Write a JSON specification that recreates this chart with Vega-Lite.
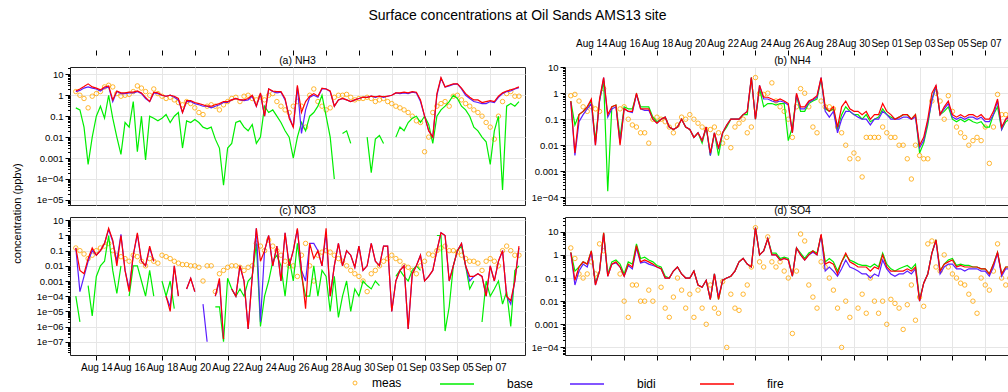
{
  "$schema": "https://vega.github.io/schema/vega-lite/v6.json",
  "padding": {"left": 10, "top": 8, "right": 5, "bottom": 5},
  "title": {"text": "Surface concentrations at Oil Sands AMS13 site", "fontSize": 14, "fontWeight": "normal", "font": "Liberation Sans", "color": "#000", "anchor": "middle", "dx": 2, "offset": 15},
  "config": {
    "font": "Liberation Sans",
    "view": {"stroke": "#222", "strokeWidth": 1},
    "axis": {"domain": false, "labelFont": "Liberation Sans", "labelColor": "#000", "tickColor": "#000", "tickWidth": 1, "gridColor": "#e6e6e6", "gridWidth": 1, "titleFont": "Liberation Sans", "titleFontWeight": "normal", "titleColor": "#000"}
  },
  "datasets": {
    "nh3": [
      {"t":"081218","meas":1.5,"base":0.25,"bidi":1.5,"fire":1.6},
      {"t":"081300","meas":1.0,"base":0.2,"bidi":1.7,"fire":2.0},
      {"t":"081306","meas":0.7,"base":0.03,"bidi":2.2,"fire":2.6},
      {"t":"081312","meas":0.25,"base":0.0005,"bidi":2.5,"fire":3.5},
      {"t":"081318","meas":0.9,"base":0.01,"bidi":2.2,"fire":2.5},
      {"t":"081400","meas":1.2,"base":0.1,"bidi":2.0,"fire":2.2},
      {"t":"081406","meas":1.5,"base":0.3,"bidi":1.6,"fire":1.8},
      {"t":"081412","meas":2.5,"base":0.08,"bidi":2.2,"fire":2.5},
      {"t":"081418","meas":3.0,"base":1.0,"bidi":2.5,"fire":2.8},
      {"t":"081500","meas":2.5,"base":0.08,"bidi":0.5,"fire":0.6},
      {"t":"081506","meas":1.2,"base":0.01,"bidi":1.5,"fire":1.6},
      {"t":"081512","meas":0.9,"base":0.0015,"bidi":1.2,"fire":1.3},
      {"t":"081518","meas":1.0,"base":0.05,"bidi":1.2,"fire":1.3},
      {"t":"081600","meas":1.1,"base":0.03,"bidi":1.3,"fire":1.4},
      {"t":"081606","meas":1.5,"base":0.5,"bidi":1.3,"fire":1.4},
      {"t":"081612","meas":2.8,"base":0.002,"bidi":1.5,"fire":1.6},
      {"t":"081618","meas":2.2,"base":0.1,"bidi":1.2,"fire":1.3},
      {"t":"081700","meas":1.5,"base":0.0008,"bidi":0.7,"fire":0.8},
      {"t":"081706","meas":1.0,"base":0.1,"bidi":0.5,"fire":0.5},
      {"t":"081712","meas":2.0,"base":0.08,"bidi":1.3,"fire":1.4},
      {"t":"081718","meas":1.2,"base":0.06,"bidi":1.2,"fire":1.3},
      {"t":"081800","meas":0.9,"base":0.08,"bidi":1.0,"fire":1.0},
      {"t":"081806","meas":0.7,"base":0.12,"bidi":0.9,"fire":0.9},
      {"t":"081812","meas":0.8,"base":0.05,"bidi":1.0,"fire":1.0},
      {"t":"081818","meas":0.6,"base":0.1,"bidi":0.8,"fire":0.9},
      {"t":"081900","meas":0.45,"base":0.15,"bidi":0.6,"fire":0.7},
      {"t":"081906","meas":0.35,"base":0.003,"bidi":0.15,"fire":0.15},
      {"t":"081912","meas":0.5,"base":0.06,"bidi":0.5,"fire":0.55},
      {"t":"081918","meas":0.4,"base":0.05,"bidi":0.5,"fire":0.55},
      {"t":"082000","meas":0.25,"base":0.07,"bidi":0.4,"fire":0.45},
      {"t":"082006","meas":0.15,"base":0.05,"bidi":0.35,"fire":0.4},
      {"t":"082012","meas":0.12,"base":0.03,"bidi":0.3,"fire":0.35},
      {"t":"082018","meas":0.3,"base":0.025,"bidi":0.3,"fire":0.3},
      {"t":"082100","meas":0.35,"base":0.03,"bidi":0.25,"fire":0.3},
      {"t":"082106","meas":0.3,"base":0.008,"bidi":0.3,"fire":0.35},
      {"t":"082112","meas":0.2,"base":0.003,"bidi":0.35,"fire":0.4},
      {"t":"082118","meas":0.35,"base":0.00005,"bidi":0.45,"fire":0.5},
      {"t":"082200","meas":0.5,"base":0.003,"bidi":0.45,"fire":0.5},
      {"t":"082206","meas":0.7,"base":0.005,"bidi":0.6,"fire":0.6},
      {"t":"082212","meas":0.8,"base":0.05,"bidi":0.7,"fire":0.7},
      {"t":"082218","meas":0.5,"base":0.06,"bidi":0.6,"fire":0.6},
      {"t":"082300","meas":0.9,"base":0.03,"bidi":0.55,"fire":0.6},
      {"t":"082306","meas":1.0,"base":0.02,"bidi":0.6,"fire":0.7},
      {"t":"082312","meas":0.7,"base":0.04,"bidi":0.9,"fire":1.0},
      {"t":"082318","meas":0.6,"base":0.005,"bidi":0.3,"fire":0.3},
      {"t":"082400","meas":0.8,"base":0.01,"bidi":1.2,"fire":1.3},
      {"t":"082406","meas":0.6,"base":0.3,"bidi":0.1,"fire":0.1},
      {"t":"082412","meas":1.0,"base":0.15,"bidi":2.0,"fire":2.0},
      {"t":"082418","meas":1.2,"base":0.2,"bidi":1.5,"fire":1.6},
      {"t":"082500","meas":0.5,"base":0.1,"bidi":1.3,"fire":1.5},
      {"t":"082506","meas":0.3,"base":0.05,"bidi":1.4,"fire":1.5},
      {"t":"082512","meas":0.2,"base":0.02,"bidi":0.6,"fire":0.7},
      {"t":"082518","meas":0.15,"base":0.01,"bidi":0.1,"fire":0.08},
      {"t":"082600","meas":0.3,"base":0.001,"bidi":0.03,"fire":0.03},
      {"t":"082606","meas":0.5,"base":0.01,"bidi":2.5,"fire":3.0},
      {"t":"082612","meas":0.3,"base":0.05,"bidi":0.015,"fire":0.15},
      {"t":"082618","meas":0.03,"base":0.02,"bidi":0.2,"fire":0.5},
      {"t":"082700","meas":1.0,"base":0.1,"bidi":0.8,"fire":0.9},
      {"t":"082706","meas":2.0,"base":0.15,"bidi":1.0,"fire":1.2},
      {"t":"082712","meas":0.5,"base":0.3,"bidi":0.8,"fire":0.9},
      {"t":"082718","meas":0.3,"base":1.0,"bidi":2.0,"fire":2.2},
      {"t":"082800","meas":0.2,"base":0.1,"bidi":2.0,"fire":2.0},
      {"t":"082806","meas":0.25,"base":0.01,"bidi":1.5,"fire":1.6},
      {"t":"082812","meas":0.8,"base":0.0001,"bidi":0.3,"fire":0.3},
      {"t":"082818","meas":1.0,"base":null,"bidi":0.6,"fire":0.6},
      {"t":"082900","meas":1.0,"base":0.015,"bidi":0.7,"fire":0.7},
      {"t":"082906","meas":1.1,"base":0.02,"bidi":0.6,"fire":0.6},
      {"t":"082912","meas":0.8,"base":0.005,"bidi":0.5,"fire":0.5},
      {"t":"082918","meas":0.6,"base":null,"bidi":0.6,"fire":0.6},
      {"t":"083000","meas":0.7,"base":null,"bidi":0.7,"fire":0.7},
      {"t":"083006","meas":0.7,"base":null,"bidi":0.8,"fire":0.8},
      {"t":"083012","meas":0.8,"base":0.01,"bidi":0.8,"fire":0.8},
      {"t":"083018","meas":0.7,"base":0.0002,"bidi":0.9,"fire":0.9},
      {"t":"083100","meas":0.5,"base":0.008,"bidi":0.8,"fire":0.85},
      {"t":"083106","meas":0.6,"base":0.012,"bidi":0.9,"fire":0.9},
      {"t":"083112","meas":0.7,"base":0.005,"bidi":0.8,"fire":0.85},
      {"t":"083118","meas":0.5,"base":null,"bidi":0.9,"fire":0.9},
      {"t":"090100","meas":0.4,"base":null,"bidi":1.0,"fire":1.0},
      {"t":"090106","meas":0.3,"base":0.01,"bidi":1.3,"fire":1.3},
      {"t":"090112","meas":0.25,"base":0.03,"bidi":1.2,"fire":1.3},
      {"t":"090118","meas":0.2,"base":0.02,"bidi":1.3,"fire":1.4},
      {"t":"090200","meas":0.15,"base":0.05,"bidi":1.2,"fire":1.3},
      {"t":"090206","meas":0.1,"base":0.08,"bidi":1.4,"fire":1.5},
      {"t":"090212","meas":0.06,"base":0.1,"bidi":1.3,"fire":1.4},
      {"t":"090218","meas":0.05,"base":0.05,"bidi":0.5,"fire":0.6},
      {"t":"090300","meas":0.002,"base":0.1,"bidi":0.1,"fire":0.1},
      {"t":"090306","meas":0.01,"base":0.04,"bidi":0.02,"fire":0.02},
      {"t":"090312","meas":0.15,"base":0.005,"bidi":0.01,"fire":0.01},
      {"t":"090318","meas":0.3,"base":0.1,"bidi":1.0,"fire":1.2},
      {"t":"090400","meas":0.4,"base":0.2,"bidi":6.5,"fire":7.0},
      {"t":"090406","meas":0.5,"base":0.3,"bidi":2.5,"fire":2.5},
      {"t":"090412","meas":0.3,"base":0.5,"bidi":2.8,"fire":3.0},
      {"t":"090418","meas":0.9,"base":1.0,"bidi":3.3,"fire":3.5},
      {"t":"090500","meas":1.0,"base":0.7,"bidi":3.5,"fire":3.5},
      {"t":"090506","meas":0.6,"base":0.3,"bidi":2.0,"fire":2.2},
      {"t":"090512","meas":0.4,"base":0.2,"bidi":1.0,"fire":1.2},
      {"t":"090518","meas":0.3,"base":0.1,"bidi":0.7,"fire":0.8},
      {"t":"090600","meas":0.2,"base":0.03,"bidi":0.5,"fire":0.6},
      {"t":"090606","meas":0.15,"base":0.02,"bidi":0.45,"fire":0.6},
      {"t":"090612","meas":0.1,"base":0.01,"bidi":0.4,"fire":0.45},
      {"t":"090618","meas":0.05,"base":0.006,"bidi":0.4,"fire":0.5},
      {"t":"090700","meas":0.03,"base":0.0005,"bidi":0.5,"fire":0.55},
      {"t":"090706","meas":0.008,"base":0.02,"bidi":0.45,"fire":0.5},
      {"t":"090712","meas":0.1,"base":0.1,"bidi":0.8,"fire":0.9},
      {"t":"090718","meas":0.5,"base":0.00003,"bidi":1.2,"fire":1.3},
      {"t":"090800","meas":1.2,"base":0.3,"bidi":1.5,"fire":1.6},
      {"t":"090806","meas":1.5,"base":0.4,"bidi":1.6,"fire":1.8},
      {"t":"090812","meas":0.9,"base":0.3,"bidi":2.0,"fire":2.1},
      {"t":"090818","meas":0.9,"base":0.5,"bidi":2.3,"fire":2.5}
    ],
    "nh4": [
      {"t":"081218","meas":0.8,"base":0.5,"bidi":0.45,"fire":0.5},
      {"t":"081300","meas":0.9,"base":0.06,"bidi":0.004,"fire":0.005},
      {"t":"081306","meas":0.5,"base":0.15,"bidi":0.08,"fire":0.15},
      {"t":"081312","meas":0.3,"base":0.2,"bidi":0.15,"fire":0.2},
      {"t":"081318","meas":0.2,"base":0.3,"bidi":0.25,"fire":0.3},
      {"t":"081400","meas":0.3,"base":0.5,"bidi":0.4,"fire":0.6},
      {"t":"081406","meas":0.25,"base":0.015,"bidi":0.01,"fire":0.01},
      {"t":"081412","meas":0.2,"base":0.5,"bidi":0.5,"fire":0.6},
      {"t":"081418","meas":1.5,"base":3.0,"bidi":4.0,"fire":4.0},
      {"t":"081500","meas":null,"base":0.00017,"bidi":0.12,"fire":0.15},
      {"t":"081506","meas":null,"base":0.3,"bidi":0.25,"fire":0.3},
      {"t":"081512","meas":null,"base":0.35,"bidi":0.3,"fire":0.35},
      {"t":"081518","meas":0.25,"base":0.02,"bidi":0.012,"fire":0.01},
      {"t":"081600","meas":0.3,"base":0.3,"bidi":0.25,"fire":0.25},
      {"t":"081606","meas":0.1,"base":0.25,"bidi":0.2,"fire":0.2},
      {"t":"081612","meas":0.06,"base":0.25,"bidi":0.18,"fire":0.2},
      {"t":"081618","meas":0.05,"base":0.9,"bidi":0.9,"fire":1.0},
      {"t":"081700","meas":0.03,"base":0.3,"bidi":0.25,"fire":0.25},
      {"t":"081706","meas":0.03,"base":0.3,"bidi":0.22,"fire":0.25},
      {"t":"081712","meas":0.012,"base":0.3,"bidi":0.22,"fire":0.25},
      {"t":"081718","meas":0.1,"base":0.12,"bidi":0.1,"fire":0.1},
      {"t":"081800","meas":0.12,"base":0.08,"bidi":0.07,"fire":0.07},
      {"t":"081806","meas":0.1,"base":0.1,"bidi":0.1,"fire":0.1},
      {"t":"081812","meas":0.08,"base":0.12,"bidi":0.12,"fire":0.12},
      {"t":"081818","meas":0.05,"base":0.05,"bidi":0.05,"fire":0.05},
      {"t":"081900","meas":0.03,"base":0.04,"bidi":0.04,"fire":0.04},
      {"t":"081906","meas":0.06,"base":0.05,"bidi":0.05,"fire":0.05},
      {"t":"081912","meas":0.12,"base":0.1,"bidi":0.1,"fire":0.1},
      {"t":"081918","meas":0.1,"base":0.05,"bidi":0.05,"fire":0.05},
      {"t":"082000","meas":0.15,"base":0.04,"bidi":0.04,"fire":0.04},
      {"t":"082006","meas":0.1,"base":0.02,"bidi":0.02,"fire":0.02},
      {"t":"082012","meas":0.07,"base":0.03,"bidi":0.03,"fire":0.03},
      {"t":"082018","meas":0.05,"base":0.012,"bidi":0.015,"fire":0.015},
      {"t":"082100","meas":0.04,"base":0.05,"bidi":0.05,"fire":0.05},
      {"t":"082106","meas":0.04,"base":0.004,"bidi":0.004,"fire":0.005},
      {"t":"082112","meas":0.05,"base":0.03,"bidi":0.03,"fire":0.03},
      {"t":"082118","meas":0.03,"base":0.004,"bidi":0.007,"fire":0.008},
      {"t":"082200","meas":0.012,"base":0.03,"bidi":0.03,"fire":0.03},
      {"t":"082206","meas":0.02,"base":0.05,"bidi":0.06,"fire":0.06},
      {"t":"082212","meas":0.008,"base":0.1,"bidi":0.1,"fire":0.1},
      {"t":"082218","meas":0.05,"base":0.1,"bidi":0.1,"fire":0.1},
      {"t":"082300","meas":0.07,"base":0.1,"bidi":0.1,"fire":0.1},
      {"t":"082306","meas":0.1,"base":0.15,"bidi":0.15,"fire":0.15},
      {"t":"082312","meas":0.03,"base":0.15,"bidi":0.2,"fire":0.2},
      {"t":"082318","meas":0.05,"base":4.0,"bidi":4.0,"fire":4.0},
      {"t":"082400","meas":4.0,"base":0.1,"bidi":0.1,"fire":0.1},
      {"t":"082406","meas":1.0,"base":1.5,"bidi":2.0,"fire":2.0},
      {"t":"082412","meas":0.9,"base":0.3,"bidi":0.6,"fire":0.7},
      {"t":"082418","meas":1.0,"base":0.4,"bidi":0.6,"fire":0.7},
      {"t":"082500","meas":2.5,"base":0.4,"bidi":0.5,"fire":0.6},
      {"t":"082506","meas":0.5,"base":0.35,"bidi":0.45,"fire":0.5},
      {"t":"082512","meas":0.3,"base":0.4,"bidi":0.5,"fire":0.6},
      {"t":"082518","meas":0.2,"base":0.4,"bidi":0.45,"fire":0.5},
      {"t":"082600","meas":0.1,"base":0.015,"bidi":0.35,"fire":0.4},
      {"t":"082606","meas":0.02,"base":0.05,"bidi":0.03,"fire":0.03},
      {"t":"082612","meas":0.3,"base":0.8,"bidi":0.9,"fire":1.0},
      {"t":"082618","meas":1.5,"base":0.2,"bidi":0.25,"fire":0.3},
      {"t":"082700","meas":1.0,"base":0.2,"bidi":0.25,"fire":0.3},
      {"t":"082706","meas":0.3,"base":0.4,"bidi":0.45,"fire":0.5},
      {"t":"082712","meas":0.05,"base":0.5,"bidi":0.55,"fire":0.6},
      {"t":"082718","meas":0.03,"base":0.6,"bidi":0.7,"fire":0.8},
      {"t":"082800","meas":0.5,"base":3.5,"bidi":4.0,"fire":4.0},
      {"t":"082806","meas":0.3,"base":0.25,"bidi":0.2,"fire":0.3},
      {"t":"082812","meas":0.3,"base":0.2,"bidi":0.12,"fire":0.2},
      {"t":"082818","meas":0.25,"base":0.25,"bidi":0.2,"fire":0.3},
      {"t":"082900","meas":0.05,"base":0.04,"bidi":0.03,"fire":0.05},
      {"t":"082906","meas":0.03,"base":0.15,"bidi":0.1,"fire":0.3},
      {"t":"082912","meas":0.01,"base":0.3,"bidi":0.2,"fire":0.5},
      {"t":"082918","meas":0.003,"base":0.2,"bidi":0.2,"fire":0.25},
      {"t":"083000","meas":0.005,"base":0.15,"bidi":0.15,"fire":0.2},
      {"t":"083006","meas":0.003,"base":0.15,"bidi":0.12,"fire":0.2},
      {"t":"083012","meas":0.0006,"base":0.1,"bidi":0.1,"fire":0.15},
      {"t":"083018","meas":0.02,"base":0.15,"bidi":0.1,"fire":0.2},
      {"t":"083100","meas":0.02,"base":0.08,"bidi":0.06,"fire":0.1},
      {"t":"083106","meas":0.02,"base":0.1,"bidi":0.1,"fire":0.15},
      {"t":"083112","meas":0.02,"base":0.12,"bidi":0.1,"fire":0.15},
      {"t":"083118","meas":0.05,"base":0.25,"bidi":0.2,"fire":0.4},
      {"t":"090100","meas":0.03,"base":0.15,"bidi":0.15,"fire":0.2},
      {"t":"090106","meas":0.02,"base":0.12,"bidi":0.1,"fire":0.15},
      {"t":"090112","meas":0.02,"base":0.1,"bidi":0.1,"fire":0.1},
      {"t":"090118","meas":0.01,"base":0.12,"bidi":0.1,"fire":0.12},
      {"t":"090200","meas":0.01,"base":0.15,"bidi":0.12,"fire":0.15},
      {"t":"090206","meas":0.003,"base":0.15,"bidi":0.12,"fire":0.15},
      {"t":"090212","meas":0.0005,"base":0.1,"bidi":0.1,"fire":0.1},
      {"t":"090218","meas":0.01,"base":0.15,"bidi":0.12,"fire":0.15},
      {"t":"090300","meas":0.004,"base":0.005,"bidi":0.008,"fire":0.01},
      {"t":"090306","meas":0.003,"base":0.012,"bidi":0.015,"fire":0.02},
      {"t":"090312","meas":0.003,"base":0.06,"bidi":0.08,"fire":0.1},
      {"t":"090318","meas":0.5,"base":0.6,"bidi":0.5,"fire":1.0},
      {"t":"090400","meas":1.0,"base":1.8,"bidi":2.0,"fire":2.0},
      {"t":"090406","meas":0.5,"base":0.15,"bidi":0.15,"fire":0.15},
      {"t":"090412","meas":0.1,"base":0.2,"bidi":0.25,"fire":0.3},
      {"t":"090418","meas":0.8,"base":0.3,"bidi":0.4,"fire":0.5},
      {"t":"090500","meas":0.2,"base":0.1,"bidi":0.12,"fire":0.15},
      {"t":"090506","meas":0.05,"base":0.08,"bidi":0.1,"fire":0.12},
      {"t":"090512","meas":0.03,"base":0.1,"bidi":0.12,"fire":0.15},
      {"t":"090518","meas":0.02,"base":0.08,"bidi":0.1,"fire":0.12},
      {"t":"090600","meas":0.01,"base":0.1,"bidi":0.12,"fire":0.15},
      {"t":"090606","meas":0.015,"base":0.08,"bidi":0.12,"fire":0.15},
      {"t":"090612","meas":0.02,"base":0.07,"bidi":0.1,"fire":0.12},
      {"t":"090618","meas":0.015,"base":0.08,"bidi":0.12,"fire":0.15},
      {"t":"090700","meas":0.05,"base":0.05,"bidi":0.08,"fire":0.1},
      {"t":"090706","meas":0.002,"base":0.05,"bidi":0.08,"fire":0.1},
      {"t":"090712","meas":0.05,"base":0.15,"bidi":0.15,"fire":0.2},
      {"t":"090718","meas":0.9,"base":0.3,"bidi":0.5,"fire":0.6},
      {"t":"090800","meas":0.15,"base":0.04,"bidi":0.04,"fire":0.05},
      {"t":"090806","meas":0.15,"base":0.08,"bidi":0.1,"fire":0.1},
      {"t":"090812","meas":0.1,"base":0.1,"bidi":0.12,"fire":0.15},
      {"t":"090818","meas":0.08,"base":0.12,"bidi":0.12,"fire":0.15}
    ],
    "no3": [
      {"t":"081218","meas":0.15,"base":0.0001,"bidi":0.15,"fire":0.15},
      {"t":"081300","meas":0.1,"base":0.000002,"bidi":0.0002,"fire":0.005},
      {"t":"081306","meas":0.06,"base":null,"bidi":0.002,"fire":0.003},
      {"t":"081312","meas":0.03,"base":0.0005,"bidi":0.02,"fire":0.03},
      {"t":"081318","meas":0.05,"base":0.000005,"bidi":0.1,"fire":0.15},
      {"t":"081400","meas":0.1,"base":0.002,"bidi":0.05,"fire":0.05},
      {"t":"081406","meas":0.15,"base":0.01,"bidi":0.1,"fire":0.1},
      {"t":"081412","meas":0.2,"base":0.02,"bidi":0.3,"fire":0.3},
      {"t":"081418","meas":0.3,"base":1.0,"bidi":2.5,"fire":3.0},
      {"t":"081500","meas":0.1,"base":0.005,"bidi":0.4,"fire":0.5},
      {"t":"081506","meas":0.05,"base":0.00015,"bidi":0.02,"fire":0.01},
      {"t":"081512","meas":0.04,"base":0.01,"bidi":1.2,"fire":1.0},
      {"t":"081518","meas":0.03,"base":null,"bidi":0.005,"fire":0.005},
      {"t":"081600","meas":0.02,"base":0.0001,"bidi":0.0003,"fire":0.0002},
      {"t":"081606","meas":0.05,"base":0.01,"bidi":0.05,"fire":0.05},
      {"t":"081612","meas":0.04,"base":0.01,"bidi":1.2,"fire":1.5},
      {"t":"081618","meas":0.02,"base":0.001,"bidi":0.02,"fire":0.02},
      {"t":"081700","meas":0.01,"base":0.0001,"bidi":0.01,"fire":0.01},
      {"t":"081706","meas":0.03,"base":0.005,"bidi":0.15,"fire":0.2},
      {"t":"081712","meas":0.02,"base":0.0001,"bidi":0.02,"fire":0.02},
      {"t":"081718","meas":0.015,"base":null,"bidi":null,"fire":null},
      {"t":"081800","meas":0.05,"base":0.001,"bidi":null,"fire":null},
      {"t":"081806","meas":0.04,"base":0.0001,"bidi":0.0001,"fire":0.0001},
      {"t":"081812","meas":0.03,"base":0.001,"bidi":0.00002,"fire":0.00001},
      {"t":"081818","meas":0.02,"base":0.000015,"bidi":0.01,"fire":0.01},
      {"t":"081900","meas":0.015,"base":null,"bidi":0.0001,"fire":0.0001},
      {"t":"081906","meas":0.012,"base":null,"bidi":null,"fire":null},
      {"t":"081912","meas":0.012,"base":null,"bidi":0.0003,"fire":0.0003},
      {"t":"081918","meas":0.01,"base":null,"bidi":0.0015,"fire":0.0015},
      {"t":"082000","meas":0.01,"base":null,"bidi":0.0002,"fire":0.0002},
      {"t":"082006","meas":0.008,"base":null,"bidi":null,"fire":null},
      {"t":"082012","meas":0.001,"base":null,"bidi":0.00003,"fire":null},
      {"t":"082018","meas":0.01,"base":null,"bidi":0.0000001,"fire":null},
      {"t":"082100","meas":0.01,"base":null,"bidi":null,"fire":null},
      {"t":"082106","meas":0.0002,"base":0.00002,"bidi":0.0001,"fire":0.0001},
      {"t":"082112","meas":0.003,"base":0.00002,"bidi":0.001,"fire":0.0015},
      {"t":"082118","meas":0.005,"base":0.0000001,"bidi":0.00000015,"fire":0.00000015},
      {"t":"082200","meas":0.008,"base":0.0015,"bidi":null,"fire":null},
      {"t":"082206","meas":0.01,"base":0.0003,"bidi":0.0003,"fire":0.0003},
      {"t":"082212","meas":0.01,"base":0.0001,"bidi":0.0001,"fire":0.0001},
      {"t":"082218","meas":0.008,"base":0.0003,"bidi":0.01,"fire":0.01},
      {"t":"082300","meas":0.005,"base":0.0001,"bidi":0.001,"fire":0.001},
      {"t":"082306","meas":0.008,"base":0.001,"bidi":0.0000007,"fire":0.0000007},
      {"t":"082312","meas":0.01,"base":0.002,"bidi":0.002,"fire":0.002},
      {"t":"082318","meas":0.3,"base":0.3,"bidi":3.0,"fire":3.0},
      {"t":"082400","meas":0.2,"base":0.000001,"bidi":0.000002,"fire":0.02},
      {"t":"082406","meas":0.1,"base":0.0001,"bidi":0.1,"fire":0.1},
      {"t":"082412","meas":0.5,"base":0.001,"bidi":1.0,"fire":1.0},
      {"t":"082418","meas":0.2,"base":0.02,"bidi":0.01,"fire":0.01},
      {"t":"082500","meas":0.1,"base":0.05,"bidi":0.2,"fire":0.2},
      {"t":"082506","meas":0.05,"base":0.01,"bidi":0.001,"fire":0.001},
      {"t":"082512","meas":0.02,"base":0.0001,"bidi":1.5,"fire":1.5},
      {"t":"082518","meas":0.01,"base":0.03,"bidi":0.01,"fire":0.01},
      {"t":"082600","meas":0.01,"base":0.001,"bidi":0.1,"fire":0.1},
      {"t":"082606","meas":0.002,"base":0.3,"bidi":2.5,"fire":3.0},
      {"t":"082612","meas":0.05,"base":0.002,"bidi":0.005,"fire":0.005},
      {"t":"082618","meas":0.3,"base":0.0001,"bidi":0.001,"fire":0.000015},
      {"t":"082700","meas":0.01,"base":0.0001,"bidi":0.3,"fire":0.3},
      {"t":"082706","meas":0.001,"base":0.01,"bidi":0.3,"fire":0.03},
      {"t":"082712","meas":0.05,"base":0.0001,"bidi":0.1,"fire":0.1},
      {"t":"082718","meas":0.08,"base":0.005,"bidi":0.01,"fire":0.01},
      {"t":"082800","meas":0.1,"base":0.002,"bidi":1.5,"fire":3.0},
      {"t":"082806","meas":0.08,"base":0.00001,"bidi":0.0001,"fire":0.0001},
      {"t":"082812","meas":0.05,"base":0.002,"bidi":0.01,"fire":0.01},
      {"t":"082818","meas":0.03,"base":0.000004,"bidi":0.3,"fire":0.3},
      {"t":"082900","meas":0.02,"base":0.0001,"bidi":0.01,"fire":0.01},
      {"t":"082906","meas":0.01,"base":0.001,"bidi":0.1,"fire":0.1},
      {"t":"082912","meas":0.005,"base":0.00001,"bidi":0.05,"fire":0.05},
      {"t":"082918","meas":0.003,"base":0.0003,"bidi":0.008,"fire":0.008},
      {"t":"083000","meas":0.002,"base":0.0001,"bidi":0.2,"fire":0.2},
      {"t":"083006","meas":0.001,"base":0.001,"bidi":0.005,"fire":0.005},
      {"t":"083012","meas":0.0002,"base":0.0005,"bidi":0.01,"fire":0.01},
      {"t":"083018","meas":0.003,"base":0.0003,"bidi":0.3,"fire":0.3},
      {"t":"083100","meas":0.005,"base":0.001,"bidi":0.02,"fire":0.02},
      {"t":"083106","meas":0.01,"base":0.0005,"bidi":0.01,"fire":0.01},
      {"t":"083112","meas":0.02,"base":null,"bidi":0.2,"fire":0.2},
      {"t":"083118","meas":0.03,"base":null,"bidi":0.2,"fire":0.2},
      {"t":"090100","meas":0.05,"base":null,"bidi":0.00001,"fire":0.00001},
      {"t":"090106","meas":0.03,"base":0.002,"bidi":0.001,"fire":0.001},
      {"t":"090112","meas":0.02,"base":0.005,"bidi":0.005,"fire":0.005},
      {"t":"090118","meas":0.01,"base":0.002,"bidi":0.01,"fire":0.01},
      {"t":"090200","meas":0.008,"base":0.001,"bidi":0.0000007,"fire":0.0000007},
      {"t":"090206","meas":0.005,"base":0.005,"bidi":0.003,"fire":0.003},
      {"t":"090212","meas":0.003,"base":0.01,"bidi":0.01,"fire":0.01},
      {"t":"090218","meas":0.01,"base":0.005,"bidi":0.05,"fire":0.05},
      {"t":"090300","meas":0.02,"base":null,"bidi":0.001,"fire":0.001},
      {"t":"090306","meas":0.06,"base":0.0001,"bidi":0.002,"fire":0.002},
      {"t":"090312","meas":0.05,"base":null,"bidi":0.005,"fire":0.005},
      {"t":"090318","meas":0.1,"base":1.0,"bidi":0.1,"fire":0.1},
      {"t":"090400","meas":0.15,"base":1.0,"bidi":1.5,"fire":1.5},
      {"t":"090406","meas":0.2,"base":0.0000005,"bidi":1.0,"fire":1.0},
      {"t":"090412","meas":0.1,"base":0.00002,"bidi":0.001,"fire":0.001},
      {"t":"090418","meas":0.1,"base":0.01,"bidi":0.01,"fire":0.01},
      {"t":"090500","meas":0.08,"base":0.1,"bidi":0.1,"fire":0.1},
      {"t":"090506","meas":0.05,"base":0.2,"bidi":0.3,"fire":0.3},
      {"t":"090512","meas":0.03,"base":0.01,"bidi":0.01,"fire":0.01},
      {"t":"090518","meas":0.02,"base":0.0003,"bidi":0.001,"fire":0.002},
      {"t":"090600","meas":0.02,"base":0.001,"bidi":0.002,"fire":0.002},
      {"t":"090606","meas":0.015,"base":null,"bidi":0.003,"fire":0.003},
      {"t":"090612","meas":0.005,"base":0.000002,"bidi":0.002,"fire":0.002},
      {"t":"090618","meas":0.02,"base":0.001,"bidi":0.0001,"fire":0.0001},
      {"t":"090700","meas":0.03,"base":0.0001,"bidi":0.01,"fire":0.01},
      {"t":"090706","meas":0.02,"base":0.0003,"bidi":0.001,"fire":0.001},
      {"t":"090712","meas":0.01,"base":0.001,"bidi":0.02,"fire":0.02},
      {"t":"090718","meas":0.1,"base":0.00003,"bidi":0.1,"fire":0.1},
      {"t":"090800","meas":0.2,"base":0.0002,"bidi":0.0001,"fire":0.0001},
      {"t":"090806","meas":0.1,"base":0.000001,"bidi":0.00003,"fire":0.00005},
      {"t":"090812","meas":0.05,"base":0.005,"bidi":0.001,"fire":0.001},
      {"t":"090818","meas":0.05,"base":0.01,"bidi":0.15,"fire":0.2}
    ],
    "so4": [
      {"t":"081218","meas":2.0,"base":1.3,"bidi":1.2,"fire":1.3},
      {"t":"081300","meas":0.7,"base":0.2,"bidi":0.05,"fire":0.08},
      {"t":"081306","meas":0.15,"base":0.3,"bidi":0.2,"fire":0.3},
      {"t":"081312","meas":0.1,"base":0.5,"bidi":0.4,"fire":0.5},
      {"t":"081318","meas":0.15,"base":0.4,"bidi":0.3,"fire":0.4},
      {"t":"081400","meas":0.5,"base":1.5,"bidi":1.3,"fire":1.5},
      {"t":"081406","meas":0.15,"base":0.06,"bidi":0.05,"fire":0.05},
      {"t":"081412","meas":3.0,"base":0.2,"bidi":0.2,"fire":0.2},
      {"t":"081418","meas":1.5,"base":9.0,"bidi":8.0,"fire":9.0},
      {"t":"081500","meas":null,"base":0.15,"bidi":0.12,"fire":0.12},
      {"t":"081506","meas":null,"base":0.5,"bidi":0.4,"fire":0.4},
      {"t":"081512","meas":null,"base":0.6,"bidi":0.45,"fire":0.5},
      {"t":"081518","meas":0.15,"base":0.4,"bidi":0.3,"fire":0.3},
      {"t":"081600","meas":0.01,"base":0.15,"bidi":0.12,"fire":0.12},
      {"t":"081606","meas":0.002,"base":0.5,"bidi":0.35,"fire":0.4},
      {"t":"081612","meas":0.05,"base":0.4,"bidi":0.25,"fire":0.3},
      {"t":"081618","meas":0.05,"base":3.0,"bidi":2.0,"fire":2.5},
      {"t":"081700","meas":0.01,"base":0.7,"bidi":0.45,"fire":0.5},
      {"t":"081706","meas":0.01,"base":0.8,"bidi":0.5,"fire":0.6},
      {"t":"081712","meas":0.03,"base":0.6,"bidi":0.4,"fire":0.5},
      {"t":"081718","meas":0.01,"base":0.5,"bidi":0.35,"fire":0.4},
      {"t":"081800","meas":null,"base":0.35,"bidi":0.3,"fire":0.3},
      {"t":"081806","meas":0.04,"base":0.3,"bidi":0.25,"fire":0.25},
      {"t":"081812","meas":0.005,"base":0.12,"bidi":0.1,"fire":0.1},
      {"t":"081818","meas":0.002,"base":0.1,"bidi":0.1,"fire":0.1},
      {"t":"081900","meas":0.015,"base":0.2,"bidi":0.2,"fire":0.2},
      {"t":"081906","meas":0.1,"base":0.3,"bidi":0.3,"fire":0.3},
      {"t":"081912","meas":0.03,"base":0.15,"bidi":0.15,"fire":0.15},
      {"t":"081918","meas":0.005,"base":0.1,"bidi":0.1,"fire":0.1},
      {"t":"082000","meas":0.02,"base":0.1,"bidi":0.1,"fire":0.1},
      {"t":"082006","meas":0.002,"base":0.2,"bidi":0.2,"fire":0.2},
      {"t":"082012","meas":0.03,"base":0.05,"bidi":0.05,"fire":0.05},
      {"t":"082018","meas":0.005,"base":0.04,"bidi":0.04,"fire":0.04},
      {"t":"082100","meas":0.001,"base":0.08,"bidi":0.08,"fire":0.08},
      {"t":"082106","meas":0.05,"base":0.012,"bidi":0.012,"fire":0.012},
      {"t":"082112","meas":0.005,"base":0.15,"bidi":0.15,"fire":0.15},
      {"t":"082118","meas":0.003,"base":0.012,"bidi":0.015,"fire":0.012},
      {"t":"082200","meas":0.07,"base":0.08,"bidi":0.08,"fire":0.08},
      {"t":"082206","meas":0.0001,"base":0.1,"bidi":0.1,"fire":0.1},
      {"t":"082212","meas":0.02,"base":0.12,"bidi":0.12,"fire":0.12},
      {"t":"082218","meas":0.005,"base":0.2,"bidi":0.2,"fire":0.2},
      {"t":"082300","meas":0.004,"base":0.5,"bidi":0.5,"fire":0.5},
      {"t":"082306","meas":0.02,"base":0.7,"bidi":0.7,"fire":0.7},
      {"t":"082312","meas":0.05,"base":0.4,"bidi":0.4,"fire":0.4},
      {"t":"082318","meas":0.3,"base":0.3,"bidi":0.3,"fire":0.3},
      {"t":"082400","meas":15,"base":15,"bidi":15,"fire":15},
      {"t":"082406","meas":0.5,"base":1.0,"bidi":1.0,"fire":1.0},
      {"t":"082412","meas":0.3,"base":1.5,"bidi":1.5,"fire":1.5},
      {"t":"082418","meas":6.0,"base":5.0,"bidi":5.0,"fire":5.0},
      {"t":"082500","meas":0.5,"base":1.2,"bidi":1.0,"fire":1.0},
      {"t":"082506","meas":0.3,"base":1.2,"bidi":1.0,"fire":1.0},
      {"t":"082512","meas":0.5,"base":0.7,"bidi":0.6,"fire":0.6},
      {"t":"082518","meas":0.2,"base":0.8,"bidi":0.7,"fire":0.7},
      {"t":"082600","meas":0.1,"base":0.7,"bidi":0.6,"fire":0.6},
      {"t":"082606","meas":0.0004,"base":0.12,"bidi":0.12,"fire":0.12},
      {"t":"082612","meas":0.2,"base":2.0,"bidi":2.0,"fire":2.0},
      {"t":"082618","meas":8.0,"base":1.2,"bidi":1.0,"fire":1.0},
      {"t":"082700","meas":4.0,"base":0.7,"bidi":0.6,"fire":0.6},
      {"t":"082706","meas":0.05,"base":1.2,"bidi":1.0,"fire":1.0},
      {"t":"082712","meas":0.015,"base":1.5,"bidi":1.3,"fire":1.5},
      {"t":"082718","meas":0.005,"base":1.2,"bidi":1.0,"fire":1.0},
      {"t":"082800","meas":0.5,"base":7.0,"bidi":7.0,"fire":8.0},
      {"t":"082806","meas":0.3,"base":0.5,"bidi":0.2,"fire":0.4},
      {"t":"082812","meas":0.1,"base":0.7,"bidi":0.3,"fire":0.5},
      {"t":"082818","meas":0.03,"base":0.5,"bidi":0.2,"fire":0.4},
      {"t":"082900","meas":0.005,"base":0.2,"bidi":0.12,"fire":0.15},
      {"t":"082906","meas":0.0001,"base":0.5,"bidi":0.25,"fire":0.5},
      {"t":"082912","meas":0.01,"base":1.0,"bidi":0.6,"fire":1.2},
      {"t":"082918","meas":0.002,"base":0.6,"bidi":0.3,"fire":0.5},
      {"t":"083000","meas":null,"base":0.5,"bidi":0.25,"fire":0.4},
      {"t":"083006","meas":0.005,"base":0.4,"bidi":0.2,"fire":0.3},
      {"t":"083012","meas":0.02,"base":0.35,"bidi":0.15,"fire":0.3},
      {"t":"083018","meas":0.003,"base":0.35,"bidi":0.15,"fire":0.3},
      {"t":"083100","meas":0.1,"base":0.3,"bidi":0.1,"fire":0.2},
      {"t":"083106","meas":0.01,"base":0.4,"bidi":0.15,"fire":0.3},
      {"t":"083112","meas":0.003,"base":0.3,"bidi":0.12,"fire":0.25},
      {"t":"083118","meas":0.01,"base":1.2,"bidi":0.6,"fire":1.0},
      {"t":"090100","meas":0.001,"base":0.4,"bidi":0.25,"fire":0.3},
      {"t":"090106","meas":0.012,"base":0.25,"bidi":0.15,"fire":0.2},
      {"t":"090112","meas":0.008,"base":0.2,"bidi":0.12,"fire":0.2},
      {"t":"090118","meas":0.005,"base":0.25,"bidi":0.15,"fire":0.2},
      {"t":"090200","meas":0.0006,"base":0.3,"bidi":0.15,"fire":0.2},
      {"t":"090206","meas":0.007,"base":0.35,"bidi":0.2,"fire":0.25},
      {"t":"090212","meas":0.05,"base":0.25,"bidi":0.15,"fire":0.2},
      {"t":"090218","meas":0.0015,"base":0.4,"bidi":0.25,"fire":0.3},
      {"t":"090300","meas":0.015,"base":0.012,"bidi":0.01,"fire":0.01},
      {"t":"090306","meas":0.006,"base":0.06,"bidi":0.06,"fire":0.06},
      {"t":"090312","meas":3.0,"base":0.15,"bidi":0.15,"fire":0.15},
      {"t":"090318","meas":4.0,"base":1.2,"bidi":1.2,"fire":1.2},
      {"t":"090400","meas":0.3,"base":4.5,"bidi":4.0,"fire":4.5},
      {"t":"090406","meas":0.2,"base":0.2,"bidi":0.15,"fire":0.2},
      {"t":"090412","meas":1.0,"base":0.4,"bidi":0.3,"fire":0.4},
      {"t":"090418","meas":0.3,"base":0.6,"bidi":0.4,"fire":0.5},
      {"t":"090500","meas":0.15,"base":0.7,"bidi":0.4,"fire":0.6},
      {"t":"090506","meas":0.1,"base":0.35,"bidi":0.25,"fire":0.3},
      {"t":"090512","meas":0.06,"base":0.4,"bidi":0.25,"fire":0.35},
      {"t":"090518","meas":0.05,"base":0.35,"bidi":0.2,"fire":0.3},
      {"t":"090600","meas":0.02,"base":0.35,"bidi":0.25,"fire":0.3},
      {"t":"090606","meas":0.01,"base":0.3,"bidi":0.25,"fire":0.3},
      {"t":"090612","meas":0.003,"base":0.3,"bidi":0.25,"fire":0.3},
      {"t":"090618","meas":0.1,"base":0.25,"bidi":0.2,"fire":0.25},
      {"t":"090700","meas":0.05,"base":0.25,"bidi":0.2,"fire":0.25},
      {"t":"090706","meas":0.03,"base":0.15,"bidi":0.12,"fire":0.15},
      {"t":"090712","meas":0.2,"base":0.4,"bidi":0.3,"fire":0.4},
      {"t":"090718","meas":3.0,"base":1.3,"bidi":1.2,"fire":1.3},
      {"t":"090800","meas":0.1,"base":0.15,"bidi":0.12,"fire":0.15},
      {"t":"090806","meas":0.05,"base":0.3,"bidi":0.25,"fire":0.3},
      {"t":"090812","meas":0.1,"base":0.3,"bidi":0.25,"fire":0.3},
      {"t":"090818","meas":0.1,"base":0.3,"bidi":0.25,"fire":0.3}
    ]
  },
  "columns": 2,
  "spacing": {"row": 0, "column": 40},
  "bounds": "flush",
  "concat": [
    {
      "width": 455, "height": 12,
      "data": {"values": [{"label": "(a) NH3"}]},
      "mark": {"type": "text", "fontSize": 10.5, "font": "Liberation Sans", "color": "#000"},
      "encoding": {"text": {"field": "label"}}
    },
    {
      "width": 455, "height": 12,
      "data": {"values": [{"label": "(b) NH4"}]},
      "mark": {"type": "text", "fontSize": 10.5, "font": "Liberation Sans", "color": "#000"},
      "encoding": {"text": {"field": "label"}}
    },
    {
      "width": 455, "height": 138,
      "data": {"name": "nh3", "format": {"parse": {"t": "date:'%m%d%H'"}}},
      "transform": [{"fold": ["meas", "base", "bidi", "fire"], "as": ["series", "value"]}],
      "encoding": {
        "x": {"field": "t", "type": "temporal",
          "scale": {"domain": [{"year": 1900, "month": 8, "date": 12, "hours": 9, "minutes": 30}, {"year": 1900, "month": 9, "date": 9, "hours": 2, "minutes": 50}]},
          "axis": {"orient": "top", "offset": 12, "title": null, "labels": false, "tickSize": 5, "grid": true,
            "values": [{"year":1900,"month":8,"date":14},{"year":1900,"month":8,"date":16},{"year":1900,"month":8,"date":18},{"year":1900,"month":8,"date":20},{"year":1900,"month":8,"date":22},{"year":1900,"month":8,"date":24},{"year":1900,"month":8,"date":26},{"year":1900,"month":8,"date":28},{"year":1900,"month":8,"date":30},{"year":1900,"month":9,"date":1},{"year":1900,"month":9,"date":3},{"year":1900,"month":9,"date":5},{"year":1900,"month":9,"date":7}]}},
        "y": {"field": "value", "type": "quantitative",
          "scale": {"type": "log", "domain": [0.0000057, 22.4], "nice": false},
          "axis": {"orient": "left", "title": "concentration (ppbv)", "titleX": -53, "titleY": 146, "titleBaseline": "middle", "titleFontSize": 11,
            "tickCount": 100, "labelOverlap": false, "labelBound": false, "labelFontSize": 9.5, "labelPadding": 2, "grid": true,
            "labelExpr": "abs(log(datum.value) / LN10 - round(log(datum.value) / LN10)) >= 0.01 ? '' : datum.value >= 0.0009 ? format(datum.value, '~r') : '1e\u2212' + format(-round(log(datum.value) / LN10), '02d')",
            "tickSize": {"condition": {"test": "abs(log(datum.value) / LN10 - round(log(datum.value) / LN10)) < 0.01", "value": 5}, "value": 2.5},
            "gridOpacity": {"condition": {"test": "abs(log(datum.value) / LN10 - round(log(datum.value) / LN10)) < 0.01", "value": 1}, "value": 0}}},
        "color": {"field": "series", "type": "nominal",
          "scale": {"domain": ["base", "bidi", "fire"], "range": ["#00EE00", "#5A1EFF", "#FF0000"]},
          "legend": {"title": null, "orient": "none", "legendX": 369, "legendY": 311, "direction": "horizontal", "columns": 3, "gridAlign": "all",
            "symbolType": "stroke", "symbolSize": 1156, "symbolStrokeWidth": 1.5, "labelFontSize": 12, "labelFont": "Liberation Sans", "labelColor": "#000",
            "labelOffset": 32, "columnPadding": 33}}
      },
      "layer": [
        {"transform": [{"filter": "datum.series === 'meas'"}],
         "mark": {"type": "point", "shape": "circle", "filled": false, "size": 20, "strokeWidth": 0.8, "opacity": 1},
         "encoding": {"color": {"value": "#FFA500"},
           "shape": {"datum": "meas", "type": "nominal", "scale": {"domain": ["meas"], "range": ["circle"]},
             "legend": {"title": null, "orient": "none", "legendX": 279, "legendY": 322, "symbolSize": 16, "symbolStrokeColor": "#FFA500", "symbolFillColor": "transparent", "symbolStrokeWidth": 0.8,
               "labelFontSize": 12, "labelFont": "Liberation Sans", "labelColor": "#000", "labelOffset": 11}}}},
        {"transform": [{"filter": "datum.series === 'base'"}], "mark": {"type": "line", "strokeWidth": 1.2}},
        {"transform": [{"filter": "datum.series === 'bidi'"}], "mark": {"type": "line", "strokeWidth": 1.2}},
        {"transform": [{"filter": "datum.series === 'fire'"}], "mark": {"type": "line", "strokeWidth": 1.2}}
      ]
    },
    {
      "width": 455, "height": 138,
      "data": {"name": "nh4", "format": {"parse": {"t": "date:'%m%d%H'"}}},
      "transform": [{"fold": ["meas", "base", "bidi", "fire"], "as": ["series", "value"]}],
      "encoding": {
        "x": {"field": "t", "type": "temporal",
          "scale": {"domain": [{"year": 1900, "month": 8, "date": 12, "hours": 9, "minutes": 30}, {"year": 1900, "month": 9, "date": 9, "hours": 2, "minutes": 50}]},
          "axis": {"orient": "top", "offset": 12, "title": null, "labels": true, "format": "%b %d", "labelFontSize": 10, "labelOverlap": false, "labelPadding": 2, "tickSize": 5, "grid": true,
            "values": [{"year":1900,"month":8,"date":14},{"year":1900,"month":8,"date":16},{"year":1900,"month":8,"date":18},{"year":1900,"month":8,"date":20},{"year":1900,"month":8,"date":22},{"year":1900,"month":8,"date":24},{"year":1900,"month":8,"date":26},{"year":1900,"month":8,"date":28},{"year":1900,"month":8,"date":30},{"year":1900,"month":9,"date":1},{"year":1900,"month":9,"date":3},{"year":1900,"month":9,"date":5},{"year":1900,"month":9,"date":7}]}},
        "y": {"field": "value", "type": "quantitative",
          "scale": {"type": "log", "domain": [0.00005, 10.2], "nice": false},
          "axis": {"orient": "left", "title": null,
            "tickCount": 100, "labelOverlap": false, "labelBound": false, "labelFontSize": 9.5, "labelPadding": 2, "grid": true,
            "labelExpr": "abs(log(datum.value) / LN10 - round(log(datum.value) / LN10)) >= 0.01 ? '' : datum.value >= 0.0009 ? format(datum.value, '~r') : '1e\u2212' + format(-round(log(datum.value) / LN10), '02d')",
            "tickSize": {"condition": {"test": "abs(log(datum.value) / LN10 - round(log(datum.value) / LN10)) < 0.01", "value": 5}, "value": 2.5},
            "gridOpacity": {"condition": {"test": "abs(log(datum.value) / LN10 - round(log(datum.value) / LN10)) < 0.01", "value": 1}, "value": 0}}},
        "color": {"field": "series", "type": "nominal",
          "scale": {"domain": ["base", "bidi", "fire"], "range": ["#00EE00", "#5A1EFF", "#FF0000"]}}
      },
      "layer": [
        {"transform": [{"filter": "datum.series === 'meas'"}], "mark": {"type": "point", "shape": "circle", "filled": false, "size": 20, "strokeWidth": 0.8, "opacity": 1}, "encoding": {"color": {"value": "#FFA500"}}},
        {"transform": [{"filter": "datum.series === 'base'"}], "mark": {"type": "line", "strokeWidth": 1.2}},
        {"transform": [{"filter": "datum.series === 'bidi'"}], "mark": {"type": "line", "strokeWidth": 1.2}},
        {"transform": [{"filter": "datum.series === 'fire'"}], "mark": {"type": "line", "strokeWidth": 1.2}}
      ]
    },
    {
      "width": 455, "height": 12,
      "data": {"values": [{"label": "(c) NO3"}]},
      "mark": {"type": "text", "fontSize": 10.5, "font": "Liberation Sans", "color": "#000"},
      "encoding": {"text": {"field": "label"}}
    },
    {
      "width": 455, "height": 12,
      "data": {"values": [{"label": "(d) SO4"}]},
      "mark": {"type": "text", "fontSize": 10.5, "font": "Liberation Sans", "color": "#000"},
      "encoding": {"text": {"field": "label"}}
    },
    {
      "width": 455, "height": 138,
      "data": {"name": "no3", "format": {"parse": {"t": "date:'%m%d%H'"}}},
      "transform": [{"fold": ["meas", "base", "bidi", "fire"], "as": ["series", "value"]}],
      "encoding": {
        "x": {"field": "t", "type": "temporal",
          "scale": {"domain": [{"year": 1900, "month": 8, "date": 12, "hours": 9, "minutes": 30}, {"year": 1900, "month": 9, "date": 9, "hours": 2, "minutes": 50}]},
          "axis": {"orient": "bottom", "title": null, "labels": true, "format": "%b %d", "labelFontSize": 10, "labelOverlap": false, "labelPadding": 2, "tickSize": 5, "grid": true,
            "values": [{"year":1900,"month":8,"date":14},{"year":1900,"month":8,"date":16},{"year":1900,"month":8,"date":18},{"year":1900,"month":8,"date":20},{"year":1900,"month":8,"date":22},{"year":1900,"month":8,"date":24},{"year":1900,"month":8,"date":26},{"year":1900,"month":8,"date":28},{"year":1900,"month":8,"date":30},{"year":1900,"month":9,"date":1},{"year":1900,"month":9,"date":3},{"year":1900,"month":9,"date":5},{"year":1900,"month":9,"date":7}]}},
        "y": {"field": "value", "type": "quantitative",
          "scale": {"type": "log", "domain": [0.0000000133, 16.5], "nice": false},
          "axis": {"orient": "left", "title": null,
            "tickCount": 100, "labelOverlap": false, "labelBound": false, "labelFontSize": 9.5, "labelPadding": 2, "grid": true,
            "labelExpr": "abs(log(datum.value) / LN10 - round(log(datum.value) / LN10)) >= 0.01 ? '' : datum.value >= 0.0009 ? format(datum.value, '~r') : '1e\u2212' + format(-round(log(datum.value) / LN10), '02d')",
            "tickSize": {"condition": {"test": "abs(log(datum.value) / LN10 - round(log(datum.value) / LN10)) < 0.01", "value": 5}, "value": 2.5},
            "gridOpacity": {"condition": {"test": "abs(log(datum.value) / LN10 - round(log(datum.value) / LN10)) < 0.01", "value": 1}, "value": 0}}},
        "color": {"field": "series", "type": "nominal",
          "scale": {"domain": ["base", "bidi", "fire"], "range": ["#00EE00", "#5A1EFF", "#FF0000"]}}
      },
      "layer": [
        {"transform": [{"filter": "datum.series === 'meas'"}], "mark": {"type": "point", "shape": "circle", "filled": false, "size": 20, "strokeWidth": 0.8, "opacity": 1}, "encoding": {"color": {"value": "#FFA500"}}},
        {"transform": [{"filter": "datum.series === 'base'"}], "mark": {"type": "line", "strokeWidth": 1.2}},
        {"transform": [{"filter": "datum.series === 'bidi'"}], "mark": {"type": "line", "strokeWidth": 1.2}},
        {"transform": [{"filter": "datum.series === 'fire'"}], "mark": {"type": "line", "strokeWidth": 1.2}}
      ]
    },
    {
      "width": 455, "height": 138,
      "data": {"name": "so4", "format": {"parse": {"t": "date:'%m%d%H'"}}},
      "transform": [{"fold": ["meas", "base", "bidi", "fire"], "as": ["series", "value"]}],
      "encoding": {
        "x": {"field": "t", "type": "temporal",
          "scale": {"domain": [{"year": 1900, "month": 8, "date": 12, "hours": 9, "minutes": 30}, {"year": 1900, "month": 9, "date": 9, "hours": 2, "minutes": 50}]},
          "axis": {"orient": "bottom", "title": null, "labels": false, "tickSize": 5, "grid": true,
            "values": [{"year":1900,"month":8,"date":14},{"year":1900,"month":8,"date":16},{"year":1900,"month":8,"date":18},{"year":1900,"month":8,"date":20},{"year":1900,"month":8,"date":22},{"year":1900,"month":8,"date":24},{"year":1900,"month":8,"date":26},{"year":1900,"month":8,"date":28},{"year":1900,"month":8,"date":30},{"year":1900,"month":9,"date":1},{"year":1900,"month":9,"date":3},{"year":1900,"month":9,"date":5},{"year":1900,"month":9,"date":7}]}},
        "y": {"field": "value", "type": "quantitative",
          "scale": {"type": "log", "domain": [0.000047, 43.5], "nice": false},
          "axis": {"orient": "left", "title": null,
            "tickCount": 100, "labelOverlap": false, "labelBound": false, "labelFontSize": 9.5, "labelPadding": 2, "grid": true,
            "labelExpr": "abs(log(datum.value) / LN10 - round(log(datum.value) / LN10)) >= 0.01 ? '' : datum.value >= 0.0009 ? format(datum.value, '~r') : '1e\u2212' + format(-round(log(datum.value) / LN10), '02d')",
            "tickSize": {"condition": {"test": "abs(log(datum.value) / LN10 - round(log(datum.value) / LN10)) < 0.01", "value": 5}, "value": 2.5},
            "gridOpacity": {"condition": {"test": "abs(log(datum.value) / LN10 - round(log(datum.value) / LN10)) < 0.01", "value": 1}, "value": 0}}},
        "color": {"field": "series", "type": "nominal",
          "scale": {"domain": ["base", "bidi", "fire"], "range": ["#00EE00", "#5A1EFF", "#FF0000"]}}
      },
      "layer": [
        {"transform": [{"filter": "datum.series === 'meas'"}], "mark": {"type": "point", "shape": "circle", "filled": false, "size": 20, "strokeWidth": 0.8, "opacity": 1}, "encoding": {"color": {"value": "#FFA500"}}},
        {"transform": [{"filter": "datum.series === 'base'"}], "mark": {"type": "line", "strokeWidth": 1.2}},
        {"transform": [{"filter": "datum.series === 'bidi'"}], "mark": {"type": "line", "strokeWidth": 1.2}},
        {"transform": [{"filter": "datum.series === 'fire'"}], "mark": {"type": "line", "strokeWidth": 1.2}}
      ]
    }
  ]
}
